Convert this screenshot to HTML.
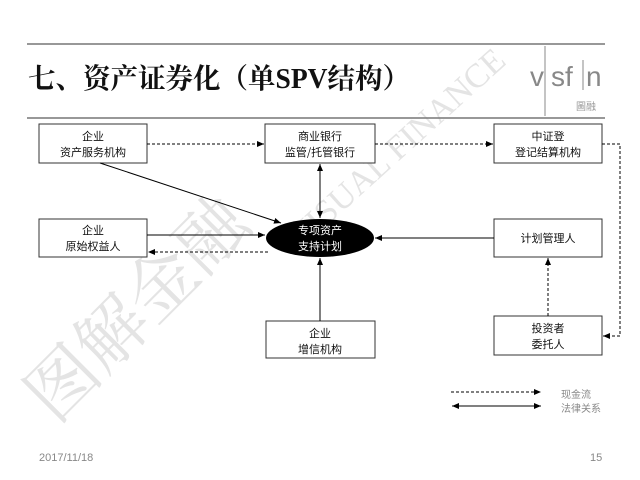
<!DOCTYPE html>
<html><head><meta charset="utf-8"><style>
body{margin:0;background:#fff;}
svg{display:block;font-family:"Liberation Serif","Noto Serif CJK SC",serif;}
</style></head><body>
<svg width="640" height="480" viewBox="0 0 640 480" xmlns="http://www.w3.org/2000/svg">
<defs>
<marker id="a" markerWidth="8" markerHeight="8" refX="7" refY="4" orient="auto" markerUnits="userSpaceOnUse"><path d="M0,1 L7,4 L0,7 z" fill="#000"/></marker>
<marker id="s" markerWidth="8" markerHeight="8" refX="1" refY="4" orient="auto" markerUnits="userSpaceOnUse"><path d="M8,1 L1,4 L8,7 z" fill="#000"/></marker>
</defs>
<g fill="#e4e4e4" font-family="Liberation Serif,Noto Serif CJK SC,serif">
<text x="55" y="425" font-size="70" transform="rotate(-45 55 425)">图解金融</text>
<text x="300" y="250" font-size="34" transform="rotate(-42 300 250)">VISUAL FINANCE</text>
</g>
<line x1="27" y1="44" x2="605" y2="44" stroke="#777" stroke-width="1.5"/>
<line x1="27" y1="118" x2="605" y2="118" stroke="#777" stroke-width="1.5"/>
<text x="28" y="88" font-size="28" font-weight="bold" textLength="382" lengthAdjust="spacingAndGlyphs" font-family="Liberation Serif,Noto Serif CJK SC,serif" fill="#111">七、资产证券化（单SPV结构）</text>
<line x1="545" y1="46" x2="545" y2="116" stroke="#888"/>
<text x="530" y="86" font-size="28" fill="#888" font-family="Liberation Sans,sans-serif">v</text>
<text x="551" y="86" font-size="28" fill="#888" font-family="Liberation Sans,sans-serif">sf</text>
<line x1="583" y1="60" x2="583" y2="90" stroke="#888"/>
<text x="586" y="86" font-size="28" fill="#888" font-family="Liberation Sans,sans-serif">n</text>
<text x="576" y="110" font-size="10" fill="#999" font-family="Noto Sans CJK SC,sans-serif">圖融</text>
<g fill="#fff" stroke="#333" stroke-width="1">
<rect x="39" y="124" width="108" height="39"/>
<rect x="265" y="124" width="110" height="39"/>
<rect x="494" y="124" width="108" height="39"/>
<rect x="39" y="219" width="108" height="38"/>
<rect x="494" y="219" width="108" height="38"/>
<rect x="266" y="321" width="109" height="37"/>
<rect x="494" y="316" width="108" height="39"/>
</g>
<ellipse cx="320" cy="238" rx="54" ry="19" fill="#000"/>
<g font-size="11" text-anchor="middle" font-family="Noto Sans CJK SC,sans-serif" fill="#111">
<text x="93" y="140">企业</text><text x="93" y="156">资产服务机构</text>
<text x="320" y="140">商业银行</text><text x="320" y="156">监管/托管银行</text>
<text x="548" y="140">中证登</text><text x="548" y="156">登记结算机构</text>
<text x="93" y="234">企业</text><text x="93" y="250">原始权益人</text>
<text x="548" y="242">计划管理人</text>
<text x="320" y="337">企业</text><text x="320" y="353">增信机构</text>
<text x="548" y="332">投资者</text><text x="548" y="348">委托人</text>
<text x="320" y="234" fill="#fff">专项资产</text><text x="320" y="250" fill="#fff">支持计划</text>
</g>
<g stroke="#000" stroke-width="1" fill="none">
<line x1="147" y1="144" x2="264" y2="144" stroke-dasharray="3,2" marker-end="url(#a)"/>
<line x1="375" y1="144" x2="493" y2="144" stroke-dasharray="3,2" marker-end="url(#a)"/>
<polyline points="602,144 620,144 620,336 603,336" stroke-dasharray="3,2" marker-end="url(#a)"/>
<line x1="320" y1="164" x2="320" y2="218" marker-start="url(#s)" marker-end="url(#a)"/>
<line x1="100" y1="163" x2="281" y2="223" marker-end="url(#a)"/>
<line x1="147" y1="235" x2="265" y2="235" marker-end="url(#a)"/>
<line x1="268" y1="252" x2="148" y2="252" stroke-dasharray="3,2" marker-end="url(#a)"/>
<line x1="494" y1="238" x2="375" y2="238" marker-end="url(#a)"/>
<line x1="320" y1="321" x2="320" y2="258" marker-end="url(#a)"/>
<line x1="548" y1="316" x2="548" y2="258" stroke-dasharray="3,2" marker-end="url(#a)"/>
<line x1="451" y1="392" x2="541" y2="392" stroke-dasharray="3,2" marker-end="url(#a)"/>
<line x1="452" y1="406" x2="541" y2="406" marker-start="url(#s)" marker-end="url(#a)"/>
</g>
<g font-size="10" fill="#888" font-family="Noto Sans CJK SC,sans-serif">
<text x="561" y="398">现金流</text><text x="561" y="412">法律关系</text>
</g>
<text x="39" y="461" font-size="11" fill="#888" font-family="Liberation Sans,sans-serif">2017/11/18</text>
<text x="590" y="461" font-size="11" fill="#888" font-family="Liberation Sans,sans-serif">15</text>
</svg>
</body></html>
